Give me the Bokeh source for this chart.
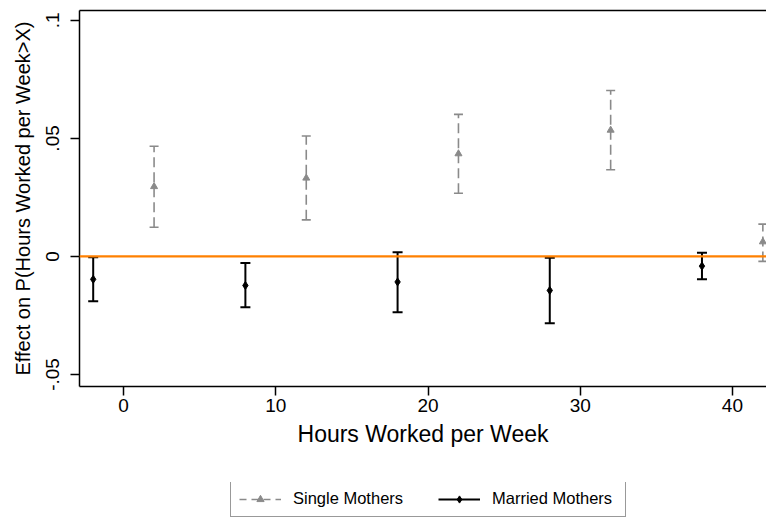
from bokeh.plotting import figure
from bokeh.models import (Range1d, FixedTicker, LinearAxis, Legend, LegendItem,
                          ColumnDataSource, Span)
from bokeh.layouts import column
from bokeh.embed import file_html
from bokeh.resources import INLINE

# ---- data ----
single_x = [2, 12, 22, 32, 42]
single_est = [0.0296, 0.0332, 0.0435, 0.0535, 0.0062]
single_lo = [0.0124, 0.0155, 0.0268, 0.0367, -0.0021]
single_hi = [0.0467, 0.0510, 0.0602, 0.0703, 0.0137]

married_x = [-2, 8, 18, 28, 38]
married_est = [-0.0097, -0.0123, -0.0108, -0.0144, -0.0041]
married_lo = [-0.0190, -0.0215, -0.0236, -0.0283, -0.0097]
married_hi = [-0.0003, -0.0028, 0.0018, -0.0006, 0.0016]

x_ticks = [0, 10, 20, 30, 40]
y_ticks = [-0.05, 0.0, 0.05, 0.1]
y_tick_labels = ["-.05", "0", ".05", ".1"]

x_title = "Hours Worked per Week"
y_title = "Effect on P(Hours Worked per Week>X)"
legend_labels = ["Single Mothers", "Married Mothers"]

FONT = "Liberation Sans"
GRAY = "#8a8a8a"
ORANGE = "#ff8000"

p = figure(width=766, height=482, output_backend="svg", toolbar_location=None,
           x_range=Range1d(-2.9, 42.24), y_range=Range1d(-0.0551, 0.1042))
p.min_border_left = 79
p.min_border_top = 10
p.min_border_right = 0
p.min_border_bottom = 96
p.outline_line_color = None
p.grid.visible = False
p.background_fill_color = "white"
p.border_fill_color = "white"

# axes styling
xa = p.xaxis[0]
xa.ticker = FixedTicker(ticks=x_ticks)
xa.axis_label = x_title
ya = p.yaxis[0]
ya.ticker = FixedTicker(ticks=y_ticks)
ya.major_label_overrides = {t: l for t, l in zip(y_ticks, y_tick_labels)}
ya.major_label_orientation = "vertical"
ya.axis_label = y_title
for ax in (xa, ya):
    ax.axis_line_width = 1.5
    ax.axis_line_color = "black"
    ax.major_tick_line_width = 1.5
    ax.major_tick_line_color = "black"
    ax.major_tick_out = 9
    ax.major_tick_in = 0
    ax.minor_tick_line_color = None
    ax.major_label_text_font = FONT
    ax.major_label_text_font_size = "19px"
    ax.major_label_text_color = "black"
    ax.axis_label_text_font = FONT
    ax.axis_label_text_font_style = "normal"
    ax.axis_label_text_color = "black"
xa.axis_label_text_font_size = "23px"
ya.axis_label_text_font_size = "20px"
xa.major_label_standoff = 3
xa.axis_label_standoff = 6
ya.major_label_standoff = 11
ya.axis_label_standoff = 10

# top border line
top = LinearAxis(ticker=FixedTicker(ticks=[]), major_label_text_font_size="0px",
                 axis_line_width=1.5, axis_line_color="black",
                 major_tick_out=0, major_tick_in=0, major_label_standoff=0,
                 major_tick_line_color=None, minor_tick_line_color=None)
p.add_layout(top, "above")

# zero line
p.add_layout(Span(location=0, dimension="width", line_color=ORANGE, line_width=2.2))

s_src = ColumnDataSource(dict(x=single_x, est=single_est, lo=single_lo, hi=single_hi))
m_src = ColumnDataSource(dict(x=married_x, est=married_est, lo=married_lo, hi=married_hi))

# single mothers: dashed gray bars
p.segment(x0="x", y0="lo", x1="x", y1="hi", source=s_src, line_color=GRAY,
          line_width=1.6, line_dash="10 5")
p.scatter(x="x", y="lo", source=s_src, marker="dash", size=9, line_color=GRAY, line_width=1.6)
p.scatter(x="x", y="hi", source=s_src, marker="dash", size=9, line_color=GRAY, line_width=1.6)
p.scatter(x="x", y="est", source=s_src, marker="triangle", size=7,
          fill_color=GRAY, line_color=GRAY)

# married mothers: solid black bars
p.segment(x0="x", y0="lo", x1="x", y1="hi", source=m_src, line_color="black", line_width=2)
p.scatter(x="x", y="lo", source=m_src, marker="dash", size=10, line_color="black", line_width=2)
p.scatter(x="x", y="hi", source=m_src, marker="dash", size=10, line_color="black", line_width=2)
p.scatter(x="x", y="est", source=m_src, marker="diamond", size=8,
          fill_color="black", line_color="black")

# ---- legend strip (separate figure below the chart, frame aligned with chart) ----
lg = figure(width=766, height=35, output_backend="svg", toolbar_location=None,
            x_range=Range1d(0, 1), y_range=Range1d(0, 1),
            min_border_left=0, min_border_right=0, min_border_top=0, min_border_bottom=0)
lg.axis.visible = False
lg.grid.visible = False
lg.outline_line_color = None
lg.border_fill_color = "white"

# proxy renderers placed outside the visible range (only used for legend glyphs)
off = dict(x=[-5, -6], y=[-5, -6])
l1 = lg.line(x="x", y="y", source=ColumnDataSource(off), line_color=GRAY, line_width=1.6, line_dash="7 5")
g1 = lg.scatter(x="x", y="y", source=ColumnDataSource(off), marker="triangle", size=7,
                fill_color=GRAY, line_color=GRAY)
l2 = lg.line(x="x", y="y", source=ColumnDataSource(off), line_color="black", line_width=2)
g2 = lg.scatter(x="x", y="y", source=ColumnDataSource(off), marker="diamond", size=7,
                fill_color="black", line_color="black")

legend = Legend(items=[LegendItem(label=legend_labels[0], renderers=[l1, g1]),
                       LegendItem(label=legend_labels[1], renderers=[l2, g2])],
                orientation="horizontal", location=(151, 0),
                glyph_width=42, glyph_height=18, label_height=18, label_width=125,
                label_standoff=12, spacing=20, padding=8, margin=0,
                label_text_font=FONT, label_text_font_size="16.5px",
                label_text_color="black",
                border_line_color="#333333", border_line_width=1,
                background_fill_color="white", background_fill_alpha=1)
lg.add_layout(legend, "center")

layout = column(p, lg, spacing=0)
html = file_html(layout, INLINE)
open("out.html", "w").write(html)
